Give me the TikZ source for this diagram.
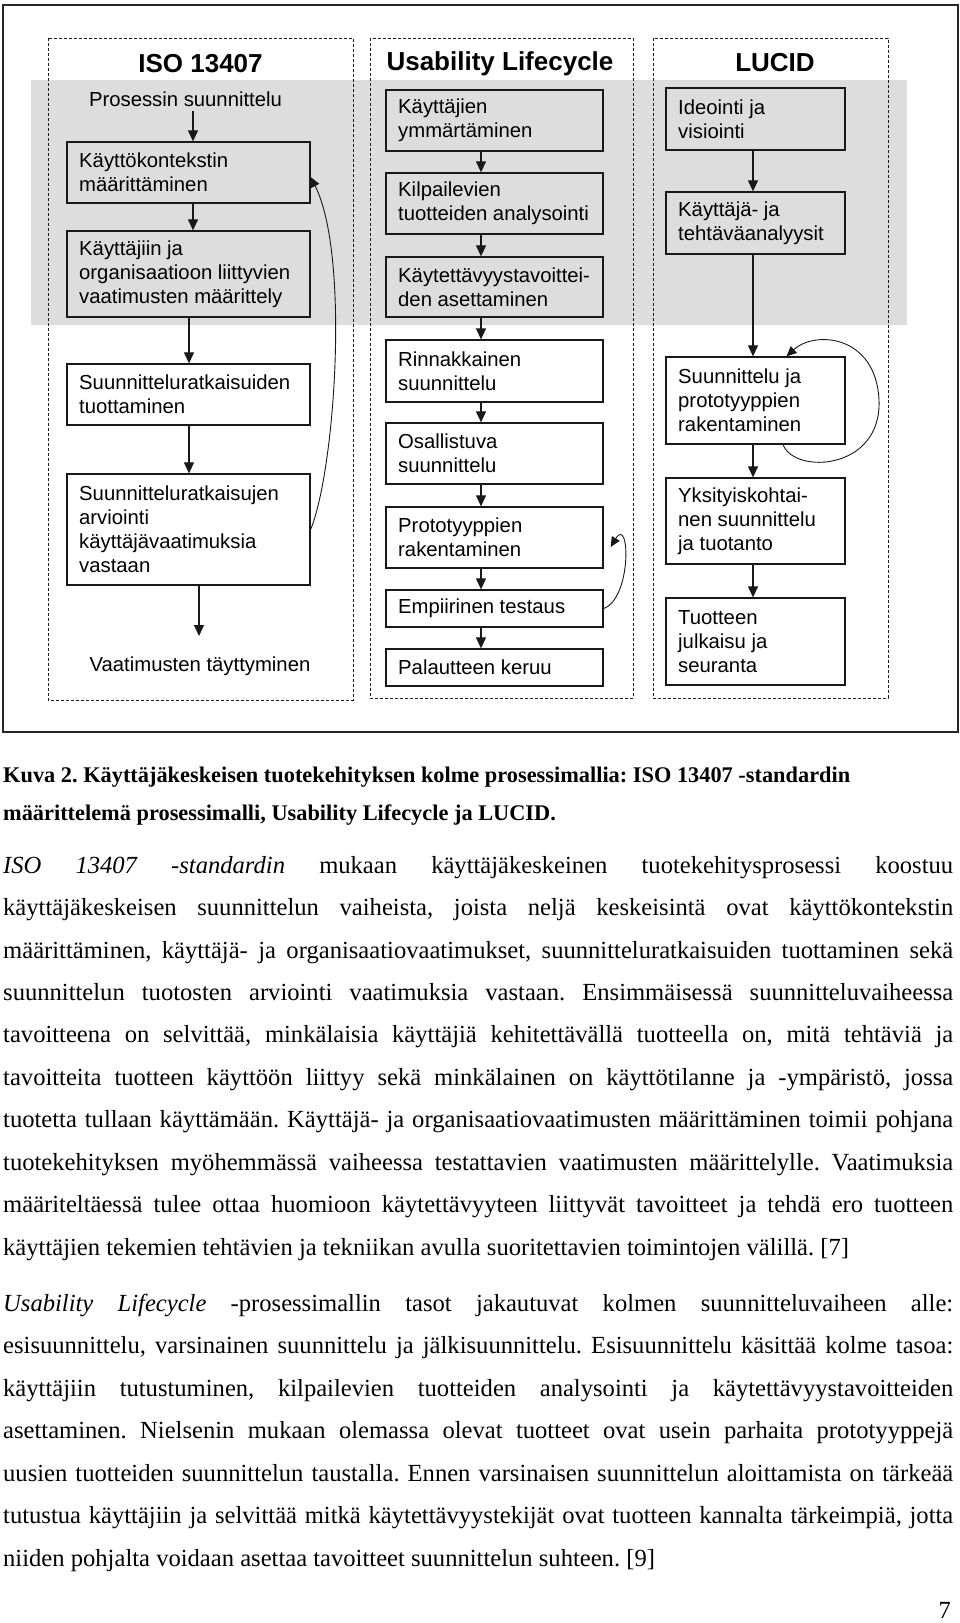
\documentclass[tikz,border=0pt]{standalone}
\usepackage{fontspec}
\setmainfont{Liberation Serif}
\newfontfamily\arialf{Liberation Sans}
\usetikzlibrary{arrows.meta}
\frenchspacing
\definecolor{bandgray}{RGB}{221,221,221}
\definecolor{linegray}{RGB}{25,25,25}
\newcommand\boxfont{\arialf\fontsize{20.3}{24}\selectfont}
\newcommand\titlefont{\arialf\bfseries\fontsize{26}{30}\selectfont}
\newcommand\bodyfont{\fontsize{24.6}{30}\selectfont}
\newcommand\capfont{\bfseries\fontsize{22.35}{26}\selectfont}
\newcommand\jline[1]{\makebox[950pt][s]{#1}}
\tikzset{
  pbox/.style={draw=linegray, line width=1.3pt, inner sep=0pt},
  btext/.style={font=\boxfont, align=left, inner sep=0pt, anchor=west},
  arr/.style={-{Triangle[length=11pt,width=10pt]}, line width=1.2pt, draw=linegray},
  fbarrow/.style={-{Triangle[length=10pt,width=9pt]}, line width=0.9pt, draw=linegray},
  dbox/.style={draw=linegray, line width=1pt, dash pattern=on 3pt off 2pt},
  ttl/.style={font=\titlefont, anchor=base, inner sep=0pt},
  bodyline/.style={anchor=base west, inner sep=0pt, font=\bodyfont},
  capline/.style={anchor=base west, inner sep=0pt, font=\capfont},
}
\begin{document}
\begin{tikzpicture}[x=1pt,y=-1pt]
\useasboundingbox (0,0) rectangle (960,1623);
\fill[white] (0,0) rectangle (960,1623);
% frame and band
\draw[line width=2pt, draw=black!85] (3,5) rectangle (958,732);
\fill[bandgray] (31,80) rectangle (907,325);
\draw[dbox] (48,38) rectangle (353,700);
\draw[dbox] (370,38) rectangle (633,698);
\draw[dbox] (653,38) rectangle (888,698);
% titles
\node[ttl] (tiso) at (200.5,72) {ISO 13407};
\node[ttl] (tusa) at (500,70) {Usability Lifecycle};
\node[ttl] (tluc) at (775,71) {LUCID};
% ISO column
\node[font=\boxfont, anchor=base, inner sep=0pt] (ps) at (185.5,106) {Prosessin suunnittelu};
\node[pbox, minimum width=243pt, minimum height=61pt] (i1) at (188.5,172.5) {};
\node[btext] (i1t) at (79,172.5) {Käyttökontekstin\\määrittäminen};
\node[pbox, minimum width=243pt, minimum height=86pt] (i2) at (188.5,274) {};
\node[btext] (i2t) at (79,274) {Käyttäjiin ja\\organisaatioon liittyvien\\vaatimusten määrittely};
\node[pbox, fill=white, minimum width=243pt, minimum height=61pt] (i3) at (188.5,394.5) {};
\node[btext] (i3t) at (79,394.5) {Suunnitteluratkaisuiden\\tuottaminen};
\node[pbox, fill=white, minimum width=243pt, minimum height=111pt] (i4) at (188.5,529.5) {};
\node[btext] (i4t) at (79,529.5) {Suunnitteluratkaisujen\\arviointi\\käyttäjävaatimuksia\\vastaan};
\node[font=\boxfont, anchor=base, inner sep=0pt] (vt) at (200,671) {Vaatimusten täyttyminen};
\coordinate (vend) at (199,636);
\draw[arr] ([xshift=7.5pt,yshift=-5pt]ps.south) -- ([xshift=4.5pt]i1.north);
\draw[arr] ([xshift=4.5pt]i1.south) -- ([xshift=4.5pt]i2.north);
\draw[arr] ([xshift=0.5pt]i2.south) -- ([xshift=0.5pt]i3.north);
\draw[arr] ([xshift=0.5pt]i3.south) -- ([xshift=0.5pt]i4.north);
\draw[arr] ([xshift=10.5pt]i4.south) -- (vend);
\draw[fbarrow] (i4.east) .. controls (335,470) and (350,255) .. ([yshift=-4.5pt]i1.east);
% Usability column
\node[pbox, minimum width=217pt, minimum height=61pt] (u1) at (494.5,120.5) {};
\node[btext] (u1t) at (398,120.5) {Käyttäjien\\ymmärtäminen};
\node[pbox, minimum width=217pt, minimum height=61pt] (u2) at (494.5,203.5) {};
\node[btext] (u2t) at (398,203.5) {Kilpailevien\\tuotteiden analysointi};
\node[pbox, minimum width=217pt, minimum height=60pt] (u3) at (494.5,287) {};
\node[btext] (u3t) at (398,287) {Käytettävyystavoittei-\\den asettaminen};
\node[pbox, fill=white, minimum width=217pt, minimum height=62pt] (u4) at (494.5,371) {};
\node[btext] (u4t) at (398,371) {Rinnakkainen\\suunnittelu};
\node[pbox, fill=white, minimum width=217pt, minimum height=61pt] (u5) at (494.5,453.5) {};
\node[btext] (u5t) at (398,453.5) {Osallistuva\\suunnittelu};
\node[pbox, fill=white, minimum width=217pt, minimum height=61pt] (u6) at (494.5,537.5) {};
\node[btext] (u6t) at (398,537.5) {Prototyyppien\\rakentaminen};
\node[pbox, fill=white, minimum width=217pt, minimum height=37pt] (u7) at (494.5,608.5) {};
\node[btext] (u7t) at (398,608.5) {Empiirinen testaus};
\node[pbox, fill=white, minimum width=217pt, minimum height=37pt] (u8) at (494.5,667.5) {};
\node[btext] (u8t) at (398,667.5) {Palautteen keruu};
\foreach \a/\b in {u1/u2,u2/u3,u3/u4,u4/u5,u5/u6,u6/u7,u7/u8}
  \draw[arr] ([xshift=-13.5pt]\a.south) -- ([xshift=-13.5pt]\b.north);
\draw[fbarrow] (u7.east) .. controls (632,598) and (630,515) .. ([xshift=7pt,yshift=-9.5pt]u6.east);
% LUCID column
\node[pbox, minimum width=179pt, minimum height=62pt] (l1) at (755.5,119) {};
\node[btext] (l1t) at (678,119) {Ideointi ja\\visiointi};
\node[pbox, minimum width=179pt, minimum height=62pt] (l2) at (755.5,223) {};
\node[btext] (l2t) at (678,223) {Käyttäjä- ja\\tehtäväanalyysit};
\node[pbox, fill=white, minimum width=179pt, minimum height=87pt] (l3) at (755.5,400.5) {};
\node[btext] (l3t) at (678,400.5) {Suunnittelu ja\\prototyyppien\\rakentaminen};
\node[pbox, fill=white, minimum width=179pt, minimum height=86pt] (l4) at (755.5,521) {};
\node[btext] (l4t) at (678,521) {Yksityiskohtai-\\nen suunnittelu\\ja tuotanto};
\node[pbox, fill=white, minimum width=179pt, minimum height=87pt] (l5) at (755.5,641.5) {};
\node[btext] (l5t) at (678,641.5) {Tuotteen\\julkaisu ja\\seuranta};
\foreach \a/\b in {l1/l2,l2/l3,l3/l4,l4/l5}
  \draw[arr] ([xshift=-2.5pt]\a.south) -- ([xshift=-2.5pt]\b.north);
\draw[fbarrow] ([xshift=27.5pt]l3.south) .. controls (795,475) and (882,470) .. (879,400)
  .. controls (876,335) and (815,330) .. ([xshift=31pt]l3.north);
% caption
\node[capline] (cap1) at (3,782) {Kuva 2. Käyttäjäkeskeisen tuotekehityksen kolme prosessimallia: ISO 13407 -standardin};
\node[capline] (cap2) at (3,820) {määrittelemä prosessimalli, Usability Lifecycle ja LUCID.};
% paragraph 1
\node[bodyline] (p1a) at (3,873) {\jline{\textit{ISO 13407 -standardin} mukaan käyttäjäkeskeinen tuotekehitysprosessi koostuu}};
\node[bodyline] (p1b) at (3,915.5) {\jline{käyttäjäkeskeisen suunnittelun vaiheista, joista neljä keskeisintä ovat käyttökontekstin}};
\node[bodyline] (p1c) at (3,958) {\jline{määrittäminen, käyttäjä- ja organisaatiovaatimukset, suunnitteluratkaisuiden tuottaminen sekä}};
\node[bodyline] (p1d) at (3,1000.4) {\jline{suunnittelun tuotosten arviointi vaatimuksia vastaan. Ensimmäisessä suunnitteluvaiheessa}};
\node[bodyline] (p1e) at (3,1042.9) {\jline{tavoitteena on selvittää, minkälaisia käyttäjiä kehitettävällä tuotteella on, mitä tehtäviä ja}};
\node[bodyline] (p1f) at (3,1085.4) {\jline{tavoitteita tuotteen käyttöön liittyy sekä minkälainen on käyttötilanne ja -ympäristö, jossa}};
\node[bodyline] (p1g) at (3,1127.8) {\jline{tuotetta tullaan käyttämään. Käyttäjä- ja organisaatiovaatimusten määrittäminen toimii pohjana}};
\node[bodyline] (p1h) at (3,1170.3) {\jline{tuotekehityksen myöhemmässä vaiheessa testattavien vaatimusten määrittelylle. Vaatimuksia}};
\node[bodyline] (p1i) at (3,1212.8) {\jline{määriteltäessä tulee ottaa huomioon käytettävyyteen liittyvät tavoitteet ja tehdä ero tuotteen}};
\node[bodyline] (p1j) at (3,1255.2) {käyttäjien tekemien tehtävien ja tekniikan avulla suoritettavien toimintojen välillä. [7]};
% paragraph 2
\node[bodyline] (p2a) at (3,1311) {\jline{\textit{Usability Lifecycle} -prosessimallin tasot jakautuvat kolmen suunnitteluvaiheen alle:}};
\node[bodyline] (p2b) at (3,1353.5) {\jline{esisuunnittelu, varsinainen suunnittelu ja jälkisuunnittelu. Esisuunnittelu käsittää kolme tasoa:}};
\node[bodyline] (p2c) at (3,1396) {\jline{käyttäjiin tutustuminen, kilpailevien tuotteiden analysointi ja käytettävyystavoitteiden}};
\node[bodyline] (p2d) at (3,1438.5) {\jline{asettaminen. Nielsenin mukaan olemassa olevat tuotteet ovat usein parhaita prototyyppejä}};
\node[bodyline] (p2e) at (3,1481) {\jline{uusien tuotteiden suunnittelun taustalla. Ennen varsinaisen suunnittelun aloittamista on tärkeää}};
\node[bodyline] (p2f) at (3,1523.5) {\jline{tutustua käyttäjiin ja selvittää mitkä käytettävyystekijät ovat tuotteen kannalta tärkeimpiä, jotta}};
\node[bodyline] (p2g) at (3,1566) {niiden pohjalta voidaan asettaa tavoitteet suunnittelun suhteen. [9]};
\node[font=\bodyfont, anchor=base east, inner sep=0pt] (pnum) at (951,1618) {7};
\end{tikzpicture}
\end{document}
